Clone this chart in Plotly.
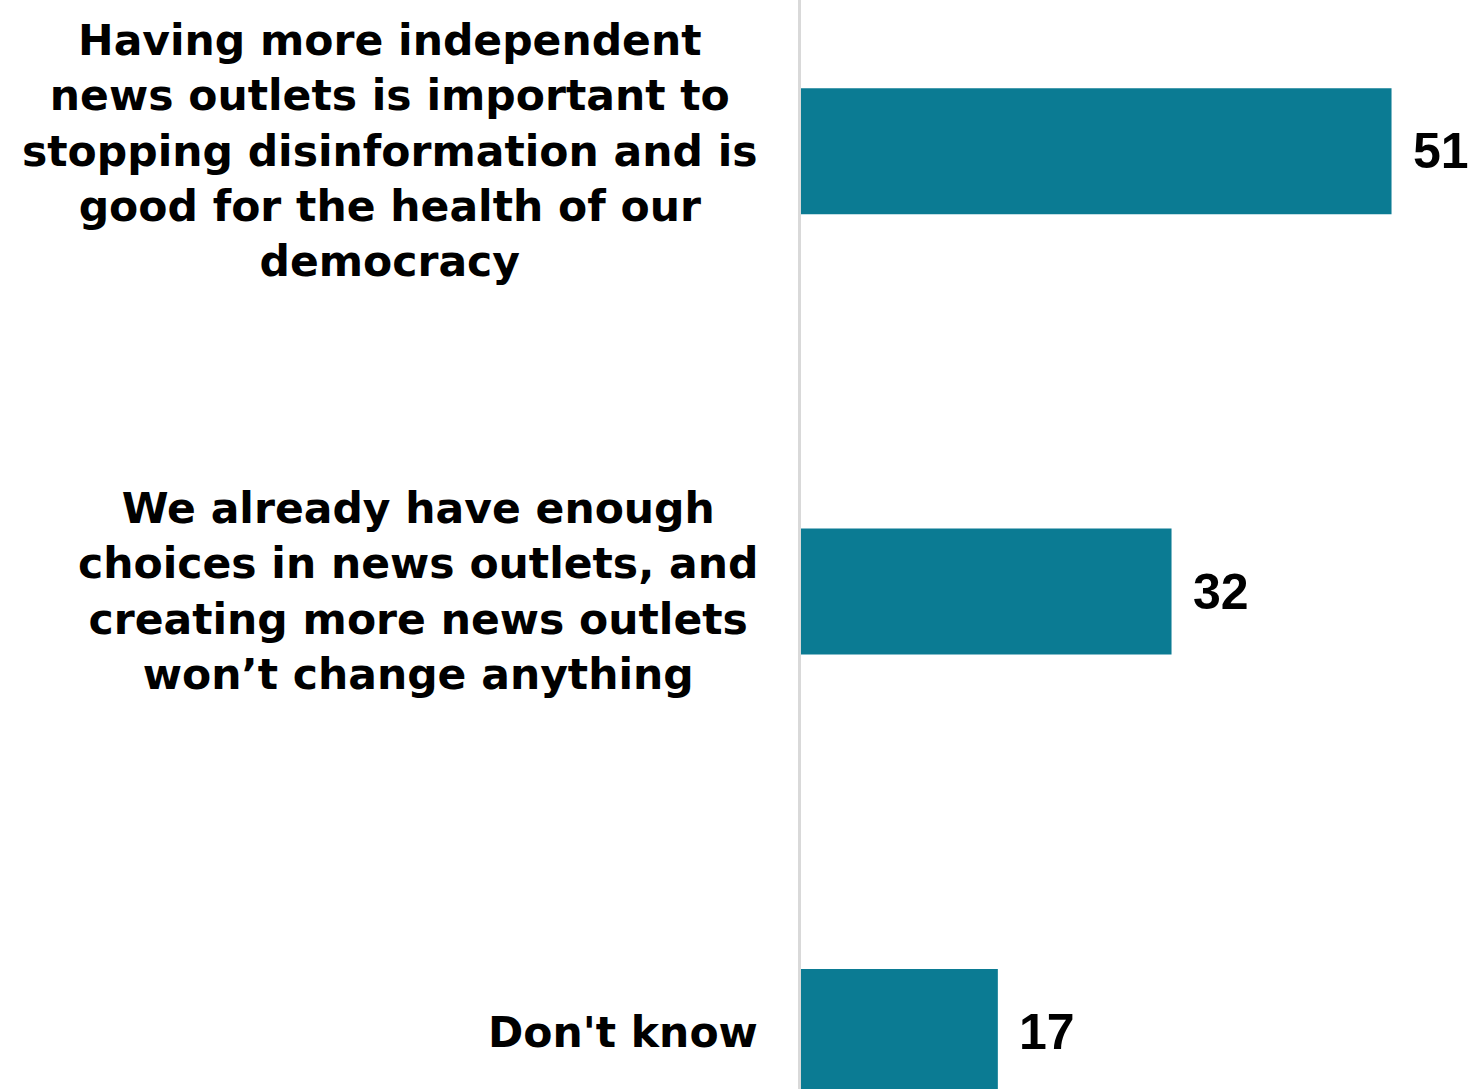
import plotly.graph_objects as go

# Survey responses (percent)
categories = [
    "Having more independent<br>news outlets is important to<br>stopping disinformation and is<br>good for the health of our<br>democracy",
    "We already have enough<br>choices in news outlets, and<br>creating more news outlets<br>won’t change anything",
    "Don't know",
]
values = [51, 32, 17]

BAR_COLOR = "#0b7b93"
positions = list(range(len(categories)))

fig = go.Figure()
fig.add_trace(
    go.Bar(
        x=values,
        y=positions,
        orientation="h",
        width=0.286,
        marker=dict(color=BAR_COLOR, line=dict(width=0)),
        hoverinfo="skip",
    )
)

# Category labels: centred lines, block right-aligned against the axis
for pos, label in zip(positions, categories):
    fig.add_annotation(
        x=0, xref="paper", y=pos, yref="y",
        text=label, showarrow=False,
        xanchor="right", yanchor="middle", align="center",
        xshift=-41,
        font=dict(family="DejaVu Sans", size=42.5, color="#000000", weight="bold"),
    )

# Value labels at the end of each bar
for pos, val in zip(positions, values):
    fig.add_annotation(
        x=val, xref="x", y=pos, yref="y",
        text=str(val), showarrow=False,
        xanchor="left", yanchor="middle",
        xshift=19,
        font=dict(family="Liberation Sans", size=50, color="#000000", weight="bold"),
    )

fig.update_layout(
    width=1472,
    height=1089,
    margin=dict(l=801, r=0, t=0, b=0),
    paper_bgcolor="white",
    plot_bgcolor="white",
    showlegend=False,
    xaxis=dict(range=[0, 57.95], visible=False, fixedrange=True),
    yaxis=dict(
        range=[2.1294, -0.3433],
        showticklabels=False,
        showgrid=False,
        zeroline=False,
        showline=True,
        linecolor="#d9d9d9",
        linewidth=3,
        ticks="",
        fixedrange=True,
    ),
)

fig.write_html("out.html", config={"displayModeBar": False})
